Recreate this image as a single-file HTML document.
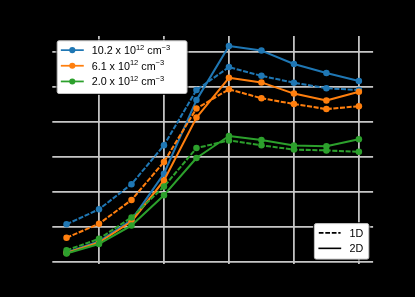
<!DOCTYPE html>
<html><head><meta charset="utf-8"><title>Chart</title>
<style>html,body{margin:0;padding:0;background:#000;font-family:"Liberation Sans",sans-serif;}body{width:415px;height:297px;overflow:hidden}</style>
</head><body>
<svg width="415" height="297" viewBox="0 0 415 297" style="display:block;filter:blur(0.5px)">
<rect width="415" height="297" fill="#000"/>
<path d="M98.90 36.00V263.90M163.90 36.00V263.90M228.90 36.00V263.90M293.90 36.00V263.90M358.90 36.00V263.90M52.30 51.92H373.10M52.30 86.92H373.10M52.30 121.92H373.10M52.30 156.92H373.10M52.30 191.92H373.10M52.30 226.92H373.10M52.30 261.92H373.10" stroke="#c6c6c6" stroke-width="1.75" fill="none"/>
<polyline points="66.52,224.30 99.00,209.30 131.49,184.20 163.97,145.30 196.46,90.00 228.94,67.10 261.43,75.85 293.91,82.70 326.40,88.20 358.88,90.10" fill="none" stroke="#1f77b4" stroke-width="2.05" stroke-dasharray="5.05 1.6" stroke-linejoin="round"/>
<g fill="#1f77b4"><circle cx="66.52" cy="224.30" r="3.25"/><circle cx="99.00" cy="209.30" r="3.25"/><circle cx="131.49" cy="184.20" r="3.25"/><circle cx="163.97" cy="145.30" r="3.25"/><circle cx="196.46" cy="90.00" r="3.25"/><circle cx="228.94" cy="67.10" r="3.25"/><circle cx="261.43" cy="75.85" r="3.25"/><circle cx="293.91" cy="82.70" r="3.25"/><circle cx="326.40" cy="88.20" r="3.25"/><circle cx="358.88" cy="90.10" r="3.25"/></g>
<polyline points="66.52,252.50 99.00,241.50 131.49,220.20 163.97,173.70 196.46,100.10 228.94,46.00 261.43,50.60 293.91,64.00 326.40,73.10 358.88,81.10" fill="none" stroke="#1f77b4" stroke-width="2.05" stroke-linejoin="round" stroke-linecap="square"/>
<g fill="#1f77b4"><circle cx="66.52" cy="252.50" r="3.25"/><circle cx="99.00" cy="241.50" r="3.25"/><circle cx="131.49" cy="220.20" r="3.25"/><circle cx="163.97" cy="173.70" r="3.25"/><circle cx="196.46" cy="100.10" r="3.25"/><circle cx="228.94" cy="46.00" r="3.25"/><circle cx="261.43" cy="50.60" r="3.25"/><circle cx="293.91" cy="64.00" r="3.25"/><circle cx="326.40" cy="73.10" r="3.25"/><circle cx="358.88" cy="81.10" r="3.25"/></g>
<polyline points="66.52,237.80 99.00,223.80 131.49,200.00 163.97,161.90 196.46,108.50 228.94,89.30 261.43,98.20 293.91,104.00 326.40,109.10 358.88,106.20" fill="none" stroke="#ff7f0e" stroke-width="2.05" stroke-dasharray="5.05 1.6" stroke-linejoin="round"/>
<g fill="#ff7f0e"><circle cx="66.52" cy="237.80" r="3.25"/><circle cx="99.00" cy="223.80" r="3.25"/><circle cx="131.49" cy="200.00" r="3.25"/><circle cx="163.97" cy="161.90" r="3.25"/><circle cx="196.46" cy="108.50" r="3.25"/><circle cx="228.94" cy="89.30" r="3.25"/><circle cx="261.43" cy="98.20" r="3.25"/><circle cx="293.91" cy="104.00" r="3.25"/><circle cx="326.40" cy="109.10" r="3.25"/><circle cx="358.88" cy="106.20" r="3.25"/></g>
<polyline points="66.52,253.00 99.00,242.50 131.49,221.50 163.97,180.50 196.46,117.60 228.94,77.80 261.43,82.40 293.91,93.60 326.40,100.40 358.88,91.70" fill="none" stroke="#ff7f0e" stroke-width="2.05" stroke-linejoin="round" stroke-linecap="square"/>
<g fill="#ff7f0e"><circle cx="66.52" cy="253.00" r="3.25"/><circle cx="99.00" cy="242.50" r="3.25"/><circle cx="131.49" cy="221.50" r="3.25"/><circle cx="163.97" cy="180.50" r="3.25"/><circle cx="196.46" cy="117.60" r="3.25"/><circle cx="228.94" cy="77.80" r="3.25"/><circle cx="261.43" cy="82.40" r="3.25"/><circle cx="293.91" cy="93.60" r="3.25"/><circle cx="326.40" cy="100.40" r="3.25"/><circle cx="358.88" cy="91.70" r="3.25"/></g>
<polyline points="66.52,250.30 99.00,238.80 131.49,217.50 163.97,186.60 196.46,148.10 228.94,140.40 261.43,145.30 293.91,149.60 326.40,150.40 358.88,151.85" fill="none" stroke="#2ca02c" stroke-width="2.05" stroke-dasharray="5.05 1.6" stroke-linejoin="round"/>
<g fill="#2ca02c"><circle cx="66.52" cy="250.30" r="3.25"/><circle cx="99.00" cy="238.80" r="3.25"/><circle cx="131.49" cy="217.50" r="3.25"/><circle cx="163.97" cy="186.60" r="3.25"/><circle cx="196.46" cy="148.10" r="3.25"/><circle cx="228.94" cy="140.40" r="3.25"/><circle cx="261.43" cy="145.30" r="3.25"/><circle cx="293.91" cy="149.60" r="3.25"/><circle cx="326.40" cy="150.40" r="3.25"/><circle cx="358.88" cy="151.85" r="3.25"/></g>
<polyline points="66.52,253.50 99.00,243.90 131.49,225.50 163.97,195.20 196.46,158.00 228.94,136.00 261.43,140.00 293.91,145.60 326.40,146.30 358.88,139.30" fill="none" stroke="#2ca02c" stroke-width="2.05" stroke-linejoin="round" stroke-linecap="square"/>
<g fill="#2ca02c"><circle cx="66.52" cy="253.50" r="3.25"/><circle cx="99.00" cy="243.90" r="3.25"/><circle cx="131.49" cy="225.50" r="3.25"/><circle cx="163.97" cy="195.20" r="3.25"/><circle cx="196.46" cy="158.00" r="3.25"/><circle cx="228.94" cy="136.00" r="3.25"/><circle cx="261.43" cy="140.00" r="3.25"/><circle cx="293.91" cy="145.60" r="3.25"/><circle cx="326.40" cy="146.30" r="3.25"/><circle cx="358.88" cy="139.30" r="3.25"/></g>
<rect x="56.25" y="39.85" width="131.70" height="54.60" rx="2.6" ry="2.6" fill="none" stroke="#000" stroke-width="0.9"/><rect x="57.20" y="40.80" width="129.80" height="52.70" rx="1.8" ry="1.8" fill="#fff" stroke="#c2c2c2" stroke-width="1.0"/>
<path d="M61.7 50.15H82.9" stroke="#1f77b4" stroke-width="1.75" stroke-linecap="square"/>
<circle cx="72.30" cy="50.15" r="3.05" fill="#1f77b4"/>
<text x="91.7" y="53.92" font-family="'Liberation Sans', sans-serif" font-size="10.75" fill="#000" xml:space="preserve">10.2 x 10<tspan dy="-4.1" font-size="7.5">12</tspan><tspan dy="4.1"> cm</tspan><tspan dy="-4.1" font-size="7.5">−3</tspan></text>
<path d="M61.7 65.75H82.9" stroke="#ff7f0e" stroke-width="1.75" stroke-linecap="square"/>
<circle cx="72.30" cy="65.75" r="3.05" fill="#ff7f0e"/>
<text x="91.7" y="69.52" font-family="'Liberation Sans', sans-serif" font-size="10.75" fill="#000" xml:space="preserve">6.1 x 10<tspan dy="-4.1" font-size="7.5">12</tspan><tspan dy="4.1"> cm</tspan><tspan dy="-4.1" font-size="7.5">−3</tspan></text>
<path d="M61.7 81.45H82.9" stroke="#2ca02c" stroke-width="1.75" stroke-linecap="square"/>
<circle cx="72.30" cy="81.45" r="3.05" fill="#2ca02c"/>
<text x="91.7" y="85.22" font-family="'Liberation Sans', sans-serif" font-size="10.75" fill="#000" xml:space="preserve">2.0 x 10<tspan dy="-4.1" font-size="7.5">12</tspan><tspan dy="4.1"> cm</tspan><tspan dy="-4.1" font-size="7.5">−3</tspan></text>
<rect x="313.45" y="222.65" width="56.30" height="37.40" rx="2.6" ry="2.6" fill="none" stroke="#000" stroke-width="0.9"/><rect x="314.40" y="223.60" width="54.40" height="35.50" rx="1.8" ry="1.8" fill="#fff" stroke="#c2c2c2" stroke-width="1.0"/>
<path d="M318.8 232.85H340.6" stroke="#000" stroke-width="1.6" stroke-dasharray="4.7 1.8"/>
<text x="349.6" y="236.7" font-family="'Liberation Sans', sans-serif" font-size="10.75" fill="#000">1D</text>
<path d="M319.2 248.35H340.40000000000003" stroke="#000" stroke-width="1.6" stroke-linecap="square"/>
<text x="349.6" y="252.2" font-family="'Liberation Sans', sans-serif" font-size="10.75" fill="#000">2D</text>
</svg>
</body></html>
